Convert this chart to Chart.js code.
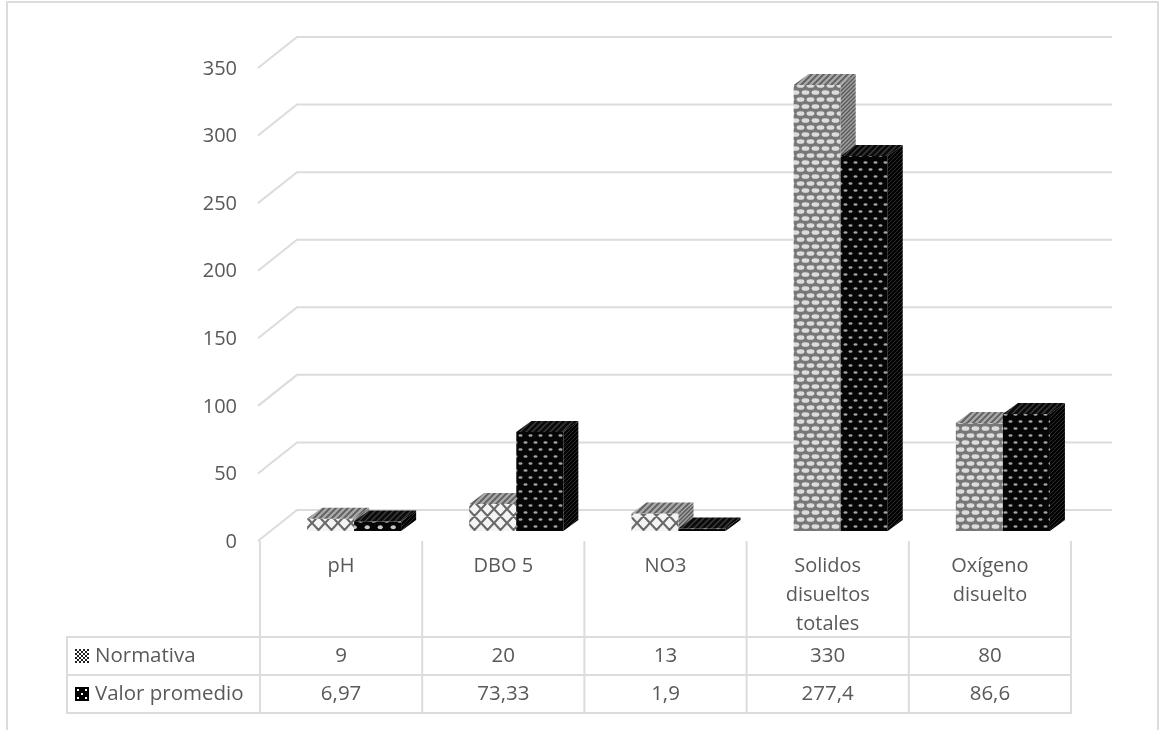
<!DOCTYPE html>
<html>
<head>
<meta charset="utf-8">
<style>
  html, body { margin: 0; padding: 0; background: #fff; }
  canvas { display: block; }
</style>
<script src="https://cdn.jsdelivr.net/npm/chart.js@4/dist/chart.umd.min.js"></script>
</head>
<body>
<canvas id="myChart" width="1161" height="730"></canvas>
<script>
const categories = ['pH', 'DBO 5', 'NO3', ['Solidos', 'disueltos', 'totales'], ['Oxígeno', 'disuelto']];
const normativa = [9, 20, 13, 330, 80];
const valorPromedio = [6.97, 73.33, 1.9, 277.4, 86.6];
const seriesNames = ['Normativa', 'Valor promedio'];
const yTicks = [0, 50, 100, 150, 200, 250, 300, 350];

const textColor = '#595959';
const lineColor = '#dcdcdc';
const fontFamily = '"Open Sans", sans-serif';

// how far the bars sit inside the box and how deep the box is
const barShift = {x: 13, y: -9};
const barDepth = {x: 15, y: -11};
const wallDepth = {x: 37, y: -30};

function makePattern(w, h, paint) {
    const c = document.createElement('canvas');
    c.width = w;
    c.height = h;
    paint(c.getContext('2d'), w, h);
    return document.createElement('canvas').getContext('2d').createPattern(c, 'repeat');
}

function lattice(w, h, back, ink, lineW) {
    return makePattern(w, h, (g) => {
        g.fillStyle = back;
        g.fillRect(0, 0, w, h);
        g.strokeStyle = ink;
        g.lineWidth = lineW;
        g.beginPath();
        g.moveTo(-w, -h); g.lineTo(w * 2, h * 2);
        g.moveTo(w * 2, -h); g.lineTo(-w, h * 2);
        g.moveTo(-w, 0); g.lineTo(w, h * 2);
        g.moveTo(0, -h); g.lineTo(w * 2, h);
        g.moveTo(w, -h); g.lineTo(-w, h);
        g.moveTo(w * 2, 0); g.lineTo(0, h * 2);
        g.stroke();
    });
}

// staggered ovals, repeated one tile out so they wrap over the tile edge
function dots(w, h, back, ink, rx, ry) {
    return makePattern(w, h, (g) => {
        g.fillStyle = back;
        g.fillRect(0, 0, w, h);
        g.fillStyle = ink;
        [[w / 4, h / 4], [w * 3 / 4, h * 3 / 4]].forEach(([x, y]) => {
            for (let ox = -w; ox <= w; ox += w) {
                for (let oy = -h; oy <= h; oy += h) {
                    g.beginPath();
                    g.ellipse(x + ox, y + oy, rx, ry, 0, 0, Math.PI * 2);
                    g.fill();
                }
            }
        });
    });
}

function hatch(size, back, ink, lineW) {
    return makePattern(size, size, (g) => {
        g.fillStyle = back;
        g.fillRect(0, 0, size, size);
        g.strokeStyle = ink;
        g.lineWidth = lineW;
        g.beginPath();
        g.moveTo(-1, size + 1); g.lineTo(size + 1, -1);
        g.moveTo(-1, 1); g.lineTo(1, -1);
        g.moveTo(size - 1, size + 1); g.lineTo(size + 1, size - 1);
        g.stroke();
    });
}

const lightFine = dots(10, 14, '#777777', '#dcdcdc', 3.9, 2.3);
const lightCoarse = lattice(13, 14, '#f4f4f4', '#696969', 2.2);
const darkFine = dots(10, 14, '#050505', '#a4a4a4', 2.1, 1.3);
const darkCoarse = dots(13, 13, '#050505', '#c8c8c8', 2.6, 1.9);
const lightSide = hatch(4, '#a2a2a2', '#595959', 1.4);
const darkSide = hatch(4, '#030303', '#2c2c2c', 1);
const lightTop = hatch(6, '#a8a8a8', '#5e5e5e', 1.8);
const darkTop = hatch(6, '#0a0a0a', '#3c3c3c', 1.4);
const lightKey = makePattern(4, 4, (g) => {
    g.fillStyle = '#fff';
    g.fillRect(0, 0, 4, 4);
    g.fillStyle = '#222';
    g.fillRect(0, 0, 2, 2);
    g.fillRect(2, 2, 2, 2);
});
const darkKey = makePattern(8, 8, (g) => {
    g.fillStyle = '#000';
    g.fillRect(0, 0, 8, 8);
    g.fillStyle = '#fff';
    g.fillRect(2, 2, 2, 2);
    g.fillRect(6, 6, 2, 2);
});

// short bars get the wide weave, tall ones the tight weave
function faceFill(fine, coarse) {
    return (c) => (c.parsed && c.parsed.y > 50 ? fine : coarse);
}

function polygon(ctx, pts, fill) {
    ctx.beginPath();
    pts.forEach(([x, y], i) => (i === 0 ? ctx.moveTo(x, y) : ctx.lineTo(x, y)));
    ctx.closePath();
    ctx.fillStyle = fill;
    ctx.fill();
}

function drawBarSides(chart, meta, light) {
    const ctx = chart.ctx;
    meta.data.forEach((bar) => {
        const half = bar.width / 2;
        const l = bar.x - half;
        const r = bar.x + half;
        const dx = barDepth.x;
        const dy = barDepth.y;
        polygon(ctx, [[r, bar.y], [r + dx, bar.y + dy], [r + dx, bar.base + dy], [r, bar.base]], light ? lightSide : darkSide);
        polygon(ctx, [[l, bar.y], [l + dx, bar.y + dy], [r + dx, bar.y + dy], [r, bar.y]], light ? lightTop : darkTop);
    });
}

const boxPlugin = {
    id: 'box',
    beforeDatasetsDraw(chart) {
        const ctx = chart.ctx;
        const {left, right} = chart.chartArea;
        const yScale = chart.scales.y;
        ctx.save();
        ctx.strokeStyle = lineColor;
        ctx.lineWidth = 2;
        yTicks.forEach((v) => {
            const y = yScale.getPixelForValue(v);
            ctx.beginPath();
            ctx.moveTo(left - 2, y + 1);
            ctx.lineTo(left + wallDepth.x, y + wallDepth.y);
            ctx.lineTo(right + wallDepth.x + 4, y + wallDepth.y);
            ctx.stroke();
        });
        ctx.restore();
        ctx.save();
        ctx.translate(barShift.x, barShift.y);
    },
    // chart.js paints the last dataset first, so the second series waits
    // until the first one is down: its front has to cover the first one's side
    beforeDatasetDraw(chart, args) {
        if (args.index === 1) return false;
    },
    afterDatasetDraw(chart, args) {
        if (args.index !== 0) return;
        drawBarSides(chart, args.meta, true);
        const second = chart.getDatasetMeta(1);
        second.controller.draw();
        drawBarSides(chart, second, false);
    },
    afterDatasetsDraw(chart) {
        chart.ctx.restore();
    }
};

const tablePlugin = {
    id: 'dataTable',
    afterDraw(chart) {
        const ctx = chart.ctx;
        const xScale = chart.scales.x;
        const tableLeft = 67;
        const top = chart.chartArea.bottom + 1;
        const rows = [637, 675, 713];
        const band = xScale.getPixelForValue(1) - xScale.getPixelForValue(0);
        const columnLeft = xScale.getPixelForValue(0) - band / 2;

        ctx.save();
        ctx.strokeStyle = lineColor;
        ctx.lineWidth = 2;
        ctx.beginPath();
        rows.forEach((y) => {
            ctx.moveTo(tableLeft, y);
            ctx.lineTo(columnLeft + band * 5 + 1, y);
        });
        ctx.moveTo(tableLeft, rows[0] - 1);
        ctx.lineTo(tableLeft, rows[2] + 1);
        for (let i = 0; i <= 5; i++) {
            const x = columnLeft + band * i;
            ctx.moveTo(x, top);
            ctx.lineTo(x, rows[2] + 1);
        }
        ctx.stroke();

        ctx.font = '20.5px ' + fontFamily;
        ctx.textBaseline = 'middle';
        [normativa, valorPromedio].forEach((values, r) => {
            const y = (rows[r] + rows[r + 1]) / 2;
            ctx.save();
            ctx.translate(75, y - 7);
            ctx.fillStyle = r === 0 ? lightKey : darkKey;
            ctx.fillRect(0, 0, 14, 14);
            ctx.restore();
            ctx.fillStyle = textColor;
            ctx.textAlign = 'left';
            ctx.fillText(seriesNames[r], 95, y);
            ctx.textAlign = 'center';
            values.forEach((v, i) => {
                ctx.fillText(String(v).replace('.', ','), xScale.getPixelForValue(i), y);
            });
        });
        ctx.restore();
    }
};

const framePlugin = {
    id: 'frame',
    beforeDraw(chart) {
        const ctx = chart.ctx;
        ctx.save();
        ctx.fillStyle = '#fff';
        ctx.fillRect(0, 0, chart.width, chart.height);
        ctx.strokeStyle = lineColor;
        ctx.lineWidth = 2;
        ctx.beginPath();
        ctx.moveTo(7, 730);
        ctx.lineTo(7, 2);
        ctx.lineTo(1158, 2);
        ctx.lineTo(1158, 730);
        ctx.stroke();
        ctx.restore();
    }
};

new Chart(document.getElementById('myChart'), {
    type: 'bar',
    data: {
        labels: categories,
        datasets: [
            {
                label: seriesNames[0],
                data: normativa,
                clip: false,
                backgroundColor: faceFill(lightFine, lightCoarse)
            },
            {
                label: seriesNames[1],
                data: valorPromedio,
                clip: false,
                backgroundColor: faceFill(darkFine, darkCoarse)
            }
        ]
    },
    options: {
        responsive: false,
        animation: false,
        layout: {padding: {top: 67, right: 90, left: 0, bottom: 0}},
        datasets: {bar: {barPercentage: 1, categoryPercentage: 0.58, borderWidth: 0}},
        plugins: {legend: {display: false}, tooltip: {enabled: false}},
        scales: {
            x: {
                grid: {display: false},
                border: {display: false},
                afterFit: (s) => { s.height = 190; },
                ticks: {
                    color: textColor,
                    padding: 4,
                    maxRotation: 0,
                    font: {family: fontFamily, size: 20, lineHeight: 1.45}
                }
            },
            y: {
                min: 0,
                max: 350,
                grid: {display: false},
                border: {display: false},
                afterFit: (s) => { s.width = 260; },
                afterBuildTicks: (s) => { s.ticks = yTicks.map((value) => ({value})); },
                ticks: {
                    color: textColor,
                    padding: 15,
                    labelOffset: 2,
                    font: {family: fontFamily, size: 20}
                }
            }
        }
    },
    plugins: [framePlugin, boxPlugin, tablePlugin]
});
</script>
</body>
</html>
